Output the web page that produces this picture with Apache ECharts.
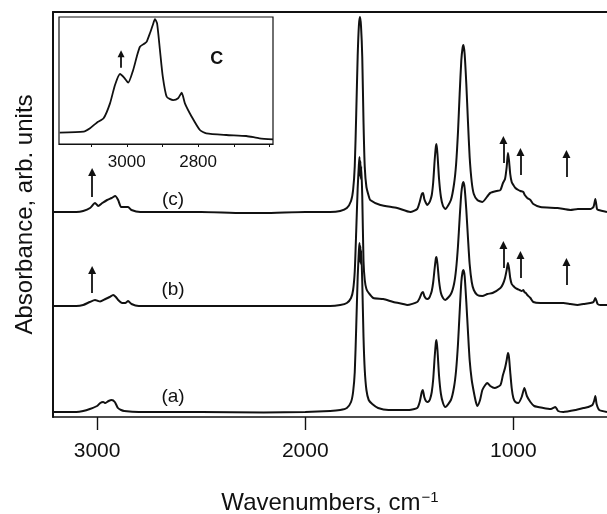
<!DOCTYPE html>
<html>
<head>
<meta charset="utf-8">
<script src="https://cdn.jsdelivr.net/npm/echarts@6/dist/echarts.min.js"></script>
<style>
  html, body { margin: 0; padding: 0; background: #fff; }
  #chart { width: 607px; height: 514px; }
</style>
</head>
<body>
<div id="chart"></div>
<script>
// spectra as [wavenumber, absorbance] pairs (arb. units)
const specA = [
  [3212, 0], [3100, 0], [3067, 0.01], [3035, 0.03], [3000, 0.06], [2985, 0.09], [2971, 0.10],
  [2960, 0.09], [2945, 0.11], [2930, 0.12], [2915, 0.10], [2900, 0.04], [2885, 0.02], [2870, 0.01],
  [2800, 0], [2500, 0], [2200, -0.005], [2000, 0], [1880, 0.01], [1832, 0.02], [1800, 0.04],
  [1780, 0.10], [1770, 0.20], [1762, 0.40], [1755, 0.85], [1748, 1.35], [1742, 1.62], [1739, 1.69],
  [1737, 1.50], [1735, 1.66], [1733, 1.48], [1731, 1.62], [1726, 1.30], [1720, 0.75], [1714, 0.42],
  [1706, 0.22], [1695, 0.12], [1678, 0.08], [1650, 0.04], [1600, 0.02], [1500, 0.02], [1462, 0.04],
  [1450, 0.10], [1440, 0.20], [1435, 0.22], [1428, 0.15], [1420, 0.11], [1413, 0.10], [1405, 0.11],
  [1400, 0.13], [1392, 0.20], [1385, 0.33], [1378, 0.55], [1372, 0.70], [1369, 0.72], [1364, 0.60],
  [1357, 0.36], [1348, 0.18], [1338, 0.09], [1327, 0.05], [1300, 0.12], [1285, 0.25], [1275, 0.42],
  [1266, 0.68], [1258, 1.00], [1250, 1.30], [1244, 1.40], [1240, 1.42], [1234, 1.36], [1226, 1.10],
  [1218, 0.80], [1210, 0.52], [1200, 0.32], [1190, 0.20], [1180, 0.10], [1173, 0.06], [1160, 0.12],
  [1149, 0.22], [1135, 0.27], [1125, 0.29], [1111, 0.26], [1090, 0.24], [1062, 0.27], [1050, 0.37],
  [1040, 0.44], [1032, 0.52], [1026, 0.59], [1021, 0.55], [1015, 0.40], [1008, 0.24], [1000, 0.14],
  [990, 0.10], [976, 0.09], [960, 0.15], [947, 0.24], [935, 0.16], [918, 0.10], [900, 0.06],
  [856, 0.04], [820, 0.03], [798, 0.05], [785, 0.01], [760, 0], [700, 0.02], [663, 0.04],
  [640, 0.05], [620, 0.07], [612, 0.11], [606, 0.16], [600, 0.08], [587, 0.02], [550, 0]
];
const specB = [
  [3212, 0], [3100, 0], [3067, 0.01], [3035, 0.04], [3010, 0.06], [2995, 0.05], [2986, 0.045],
  [2960, 0.07], [2940, 0.09], [2923, 0.11], [2910, 0.09], [2899, 0.06], [2880, 0.03], [2865, 0.03],
  [2851, 0.05], [2835, 0.02], [2800, 0], [2500, 0], [2000, 0], [1880, 0], [1832, 0.01], [1800, 0.03],
  [1780, 0.08], [1770, 0.16], [1762, 0.35], [1755, 0.75], [1748, 1.18], [1742, 1.42], [1739, 1.49],
  [1737, 1.30], [1735, 1.45], [1733, 1.27], [1731, 1.40], [1726, 1.10], [1720, 0.45], [1714, 0.26],
  [1706, 0.17], [1695, 0.13], [1673, 0.08], [1625, 0.07], [1577, 0.04], [1530, 0.02], [1510, 0.01],
  [1462, 0.04], [1450, 0.08], [1440, 0.13], [1434, 0.14], [1428, 0.10], [1420, 0.075], [1413, 0.07],
  [1405, 0.08], [1400, 0.10], [1392, 0.15], [1385, 0.24], [1378, 0.38], [1372, 0.48], [1369, 0.49],
  [1364, 0.41], [1357, 0.25], [1348, 0.13], [1338, 0.08], [1327, 0.06], [1300, 0.12], [1285, 0.22],
  [1275, 0.37], [1266, 0.60], [1258, 0.88], [1250, 1.13], [1244, 1.22], [1240, 1.24], [1234, 1.18],
  [1226, 0.96], [1218, 0.68], [1210, 0.42], [1200, 0.24], [1190, 0.16], [1173, 0.11], [1149, 0.10],
  [1125, 0.12], [1100, 0.13], [1062, 0.18], [1050, 0.22], [1040, 0.28], [1032, 0.36], [1026, 0.43],
  [1021, 0.38], [1015, 0.28], [1008, 0.22], [1000, 0.20], [990, 0.18], [981, 0.17], [970, 0.16],
  [960, 0.15], [952, 0.16], [947, 0.14], [940, 0.13], [933, 0.11], [918, 0.08], [904, 0.04],
  [870, 0.03], [837, 0.03], [760, 0.03], [726, 0.02], [692, 0.01], [663, 0.02], [630, 0.03],
  [615, 0.04], [606, 0.08], [595, 0.02], [582, 0.01], [550, 0.01]
];
const specC = [
  [3212, 0], [3100, 0], [3067, 0.01], [3034, 0.04], [3010, 0.09], [2995, 0.06], [2975, 0.09],
  [2952, 0.12], [2930, 0.14], [2913, 0.16], [2899, 0.12], [2885, 0.05], [2870, 0.05], [2851, 0.05],
  [2835, 0.02], [2793, 0], [2500, 0], [2300, -0.01], [2200, -0.01], [2000, 0], [1880, 0],
  [1832, 0.01], [1800, 0.04], [1780, 0.11], [1770, 0.22], [1762, 0.46], [1755, 0.98], [1748, 1.56],
  [1742, 1.87], [1737, 1.95], [1732, 1.86], [1726, 1.55], [1720, 0.90], [1714, 0.45], [1706, 0.25],
  [1695, 0.16], [1688, 0.12], [1639, 0.07], [1558, 0.04], [1495, 0], [1462, 0.03], [1450, 0.10],
  [1440, 0.18], [1434, 0.19], [1428, 0.13], [1420, 0.09], [1413, 0.07], [1405, 0.09], [1400, 0.11],
  [1392, 0.17], [1385, 0.30], [1378, 0.52], [1372, 0.66], [1369, 0.68], [1364, 0.56], [1357, 0.33],
  [1348, 0.15], [1338, 0.06], [1327, 0.03], [1300, 0.12], [1285, 0.28], [1275, 0.48], [1266, 0.80],
  [1258, 1.18], [1250, 1.52], [1244, 1.64], [1240, 1.67], [1234, 1.58], [1226, 1.28], [1218, 0.90],
  [1210, 0.55], [1200, 0.30], [1190, 0.18], [1173, 0.12], [1149, 0.10], [1120, 0.17], [1111, 0.19],
  [1080, 0.21], [1062, 0.22], [1050, 0.29], [1040, 0.33], [1032, 0.45], [1026, 0.59], [1021, 0.52],
  [1015, 0.38], [1008, 0.30], [1000, 0.27], [990, 0.24], [976, 0.22], [966, 0.21], [952, 0.20],
  [945, 0.17], [933, 0.14], [918, 0.12], [904, 0.08], [870, 0.05], [788, 0.04], [726, 0.02],
  [690, 0.03], [663, 0.03], [630, 0.03], [615, 0.05], [606, 0.13], [598, 0.03], [591, 0.02], [550, 0]
];
// vertical offset of each trace in the stack
const offsets = [0.05, 1.11, 2.05];
const traceNames = ['(a)', '(b)', '(c)'];

// inset: C-H stretching region of (c), normalised
const insetSpec = [
  [3188, 0.089], [3121, 0.097], [3103, 0.124], [3084, 0.168], [3065, 0.202], [3047, 0.320],
  [3033, 0.465], [3019, 0.551], [3008, 0.525], [2996, 0.483], [2982, 0.583], [2972, 0.687],
  [2963, 0.766], [2949, 0.793], [2944, 0.806], [2935, 0.872], [2927, 0.937], [2921, 0.984],
  [2915, 0.950], [2907, 0.740], [2899, 0.530], [2888, 0.372], [2870, 0.346], [2856, 0.360],
  [2846, 0.404], [2837, 0.320], [2818, 0.215], [2795, 0.110], [2777, 0.084], [2721, 0.071],
  [2665, 0.063], [2628, 0.045], [2590, 0.037]
];

const xTicks = [3000, 2000, 1000];
const insetTicks = [3100, 3000, 2900, 2800, 2700, 2600];
const insetLabels = [3000, 2800];

// arrows marking new bands: wavenumber, tail, head
const arrowWaves = [3024, 1048, 966, 745];
const arrowsB = [[1.24, 1.47], [1.49, 1.72], [1.39, 1.62], [1.32, 1.55]];
const arrowsC = [[2.20, 2.45], [2.54, 2.77], [2.42, 2.65], [2.40, 2.63]];
const insetArrow = [3016, 0.60, 0.71];

const FONT = 'Liberation Sans, Arial, sans-serif';
const INK = '#111';

function arrowLines(list) {
  return list.map((a, i) => [
    { coord: [arrowWaves[i], a[0]] },
    { coord: [arrowWaves[i], a[1]] }
  ]);
}

const labelY = [0.20, 1.27, 2.17];

const series = [specA, specB, specC].map((spec, i) => {
  const s = {
    name: traceNames[i],
    type: 'line',
    xAxisIndex: 0,
    yAxisIndex: 0,
    data: spec.map(p => [p[0], p[1] + offsets[i]]),
    showSymbol: false,
    smooth: 0.2,
    lineStyle: { color: INK, width: 2 },
    silent: true,
    markPoint: {
      symbol: 'circle',
      symbolSize: 1,
      itemStyle: { color: 'rgba(0,0,0,0)' },
      label: { show: true, position: 'inside', color: INK, fontFamily: FONT, fontSize: 19 },
      data: [{ coord: [2635, labelY[i]], label: { formatter: traceNames[i] } }]
    }
  };
  const arrows = i === 1 ? arrowsB : i === 2 ? arrowsC : null;
  if (arrows) {
    s.markLine = {
      silent: true,
      symbol: ['none', 'triangle'],
      symbolSize: 8,
      label: { show: false },
      lineStyle: { color: INK, width: 1.8, type: 'solid' },
      data: arrowLines(arrows)
    };
  }
  return s;
});

series.push({
  type: 'line',
  xAxisIndex: 2,
  yAxisIndex: 1,
  data: insetSpec,
  showSymbol: false,
  smooth: 0.2,
  lineStyle: { color: INK, width: 1.8 },
  silent: true,
  markLine: {
    silent: true,
    symbol: ['none', 'triangle'],
    symbolSize: 7,
    label: { show: false },
    lineStyle: { color: INK, width: 1.8, type: 'solid' },
    data: [[{ coord: [insetArrow[0], insetArrow[1]] }, { coord: [insetArrow[0], insetArrow[2]] }]]
  },
  markPoint: {
    symbol: 'circle',
    symbolSize: 1,
    itemStyle: { color: 'rgba(0,0,0,0)' },
    label: { show: true, position: 'inside', color: INK, fontFamily: FONT, fontSize: 18, fontWeight: 'bold' },
    data: [{ coord: [2748, 0.67], label: { formatter: 'C' } }]
  }
});

const plain = v => String(v);

const chart = echarts.init(document.getElementById('chart'), null, { renderer: 'canvas' });
chart.setOption({
  animation: false,
  backgroundColor: '#fff',
  grid: [
    { left: 53, top: 12, width: 554, height: 405, outerBoundsMode: 'none', containLabel: false },
    { left: 59, top: 17, width: 214, height: 127, outerBoundsMode: 'none', containLabel: false,
      show: true, borderColor: INK, borderWidth: 1.2, backgroundColor: 'rgba(0,0,0,0)' }
  ],
  xAxis: [
    {
      gridIndex: 0, type: 'value', inverse: true, min: 550, max: 3212,
      name: 'Wavenumbers, cm{sup|\u22121}',
      nameLocation: 'middle', nameGap: 73,
      nameTextStyle: {
        color: INK, fontFamily: FONT, fontSize: 24,
        rich: { sup: { fontSize: 15, fontFamily: FONT, color: INK, verticalAlign: 'top', padding: [0, 0, 12, 1] } }
      },
      axisLine: { show: true, onZero: false, lineStyle: { color: INK, width: 1.6 } },
      axisTick: { show: true, length: 13, customValues: xTicks, lineStyle: { color: INK, width: 1.4 } },
      axisLabel: { show: true, customValues: xTicks, formatter: plain, margin: 24, color: INK, fontFamily: FONT, fontSize: 21 },
      splitLine: { show: false }
    },
    {
      gridIndex: 0, type: 'value', position: 'top', inverse: true, min: 550, max: 3212,
      axisLine: { show: true, onZero: false, lineStyle: { color: INK, width: 2 } },
      axisTick: { show: false }, axisLabel: { show: false }, splitLine: { show: false }
    },
    {
      gridIndex: 1, type: 'value', inverse: true, min: 2590, max: 3190, splitNumber: 6,
      axisLine: { show: true, onZero: false, lineStyle: { color: INK, width: 1.2 } },
      axisTick: { show: true, length: 3, customValues: insetTicks, lineStyle: { color: INK, width: 1 } },
      axisLabel: { show: true, customValues: insetLabels, formatter: plain, margin: 10, color: INK, fontFamily: FONT, fontSize: 17 },
      splitLine: { show: false }
    }
  ],
  yAxis: [
    {
      gridIndex: 0, type: 'value', min: 0, max: 4.05,
      name: 'Absorbance, arb. units',
      nameLocation: 'middle', nameGap: 16,
      nameTextStyle: { color: INK, fontFamily: FONT, fontSize: 24 },
      axisLine: { show: true, lineStyle: { color: INK, width: 2 } },
      axisTick: { show: false }, axisLabel: { show: false }, splitLine: { show: false }
    },
    {
      gridIndex: 1, type: 'value', min: 0, max: 1,
      axisLine: { show: false }, axisTick: { show: false }, axisLabel: { show: false }, splitLine: { show: false }
    }
  ],
  series: series
});
</script>
</body>
</html>
